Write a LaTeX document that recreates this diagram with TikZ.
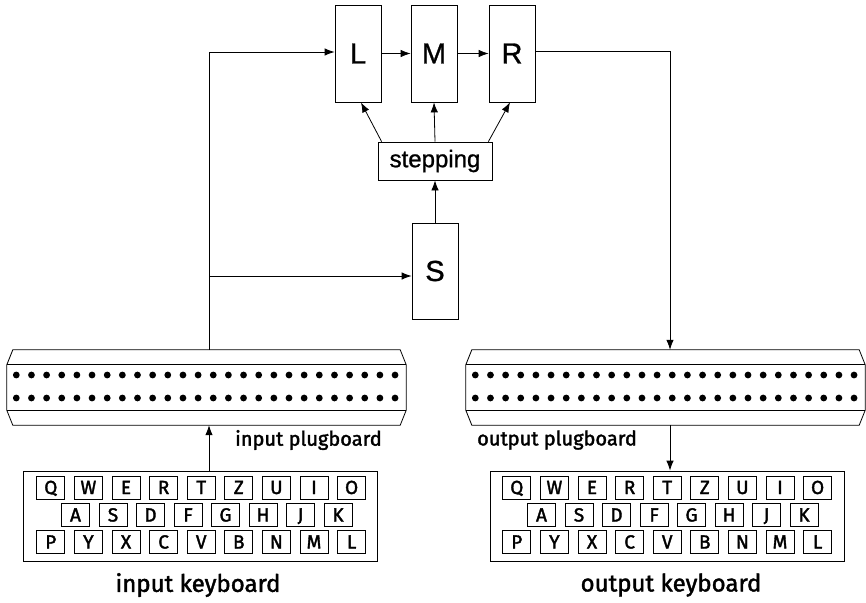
\documentclass[tikz,border=0pt]{standalone}
\usepackage{fontspec}
\setmainfont{Liberation Sans}[FakeBold=1]
\newfontfamily\comic{Fira Sans}[FakeBold=1.8]
\usetikzlibrary{arrows.meta,calc}
\begin{document}
\begin{tikzpicture}[x=1pt,y=-1pt,
  ln/.style={line width=0.8pt},
  arr/.style={line width=0.8pt,-{Latex[length=10pt,width=7.5pt]}},
  rotor/.style={draw,line width=0.8pt,minimum width=46pt,minimum height=97pt,inner sep=0pt,font=\fontsize{29}{29}\selectfont},
  stepbox/.style={draw,line width=0.8pt,minimum width=114pt,minimum height=38pt,inner sep=0pt,font=\fontsize{24}{24}\selectfont},
  keybox/.style={draw,line width=0.7pt,minimum width=28pt,minimum height=23pt,inner sep=0pt,text height=13pt,text depth=0pt,font=\comic\fontsize{19}{19}\selectfont},
  kbframe/.style={draw,line width=0.8pt,minimum width=354pt,minimum height=90pt,inner sep=0pt},
  pbframe/.style={inner sep=0pt,minimum height=75pt},
  lbl/.style={inner sep=0pt,font=\comic\fontsize{20}{20}\selectfont},
  biglbl/.style={inner sep=0pt,font=\comic\fontsize{24}{24}\selectfont}]
\useasboundingbox (0,0) rectangle (866,602);

% rotors
\node[rotor] (L) at (358,53.5) {L};
\node[rotor] (M) at (434,53.5) {M};
\node[rotor] (R) at (512,53.5) {R};
\node[stepbox] (step) at (435,161) {stepping};
\node[rotor,minimum height=96pt] (S) at (435,271) {S};

\draw[arr] (L.east) -- (M.west);
\draw[arr] (M.east) -- (R.west);
\draw[arr] ($(step.north west)+(4,0)$) -- ($(L.south)+(3,0)$);
\draw[arr] (step.north) -- (M.south);
\draw[arr] ($(step.north east)+(-4,0)$) -- ($(R.south)+(-2,0)$);
\draw[arr] (S.north) -- (step.south);

% plugboards
\node[pbframe,minimum width=399pt] (pbL) at (206.5,387.5) {};
\node[pbframe,minimum width=399pt] (pbR) at (665.5,387.5) {};
\foreach \p in {pbL,pbR}{
  \draw[ln] ($(\p.north west)+(6,0)$) -- ($(\p.north east)+(-6,0)$) -- ($(\p.north east)+(0,15)$)
    -- ($(\p.south east)+(0,-15)$) -- ($(\p.south east)+(-6,0)$) -- ($(\p.south west)+(6,0)$)
    -- ($(\p.south west)+(0,-15)$) -- ($(\p.north west)+(0,15)$) -- cycle;
  \draw[ln] ($(\p.north west)+(0,15)$) -- ($(\p.north east)+(0,15)$);
  \draw[ln] ($(\p.south west)+(0,-15)$) -- ($(\p.south east)+(0,-15)$);
  \foreach \i in {0,...,25}{
    \fill ($(\p.west)+(9.5+15.15*\i,-12.5)$) circle[radius=3.4pt];
    \fill ($(\p.west)+(9.5+15.15*\i,10.5)$) circle[radius=3.4pt];
  }
}

% keyboards
\node[kbframe] (kbL) at (200,516) {};
\node[kbframe] (kbR) at (667,516) {};
\foreach \s/\dx in {L/0,R/466}{
  \foreach \l [count=\i from 0] in {Q,W,E,R,T,Z,U,I,O}
    \node[keybox] (k\s a\i) at (50.8+37.6*\i+\dx,487.5) {\l};
  \foreach \l [count=\i from 0] in {A,S,D,F,G,H,J,K}
    \node[keybox] (k\s b\i) at (75.5+37.5*\i+\dx,515) {\l};
  \foreach \l [count=\i from 0] in {P,Y,X,C,V,B,N,M,L}
    \node[keybox] (k\s c\i) at (50.8+37.6*\i+\dx,542) {\l};
}

% labels
\node[lbl,anchor=west] (lpbL) at (235,440) {input plugboard};
\node[lbl,anchor=west] (lpbR) at (477,440) {output plugboard};
\node[biglbl] (lkbL) at (198,585) {input keyboard};
\node[biglbl] (lkbR) at (671,585) {output keyboard};

% signal path
\coordinate (jl) at (209,0);
\coordinate (jr) at (670,0);
\draw[arr] (kbL.north -| jl) -- (pbL.south -| jl);
\draw[arr] (pbL.north -| jl) |- ($(L.west)+(0,-1.5)$);
\coordinate (br) at (209,276);
\draw[arr] (br) -- (S.west |- br);
\draw[arr] ($(R.east)+(0,-2.5)$) -| (pbR.north -| jr);
\draw[arr] (pbR.south -| jr) -- (kbR.north -| jr);
\end{tikzpicture}
\end{document}
